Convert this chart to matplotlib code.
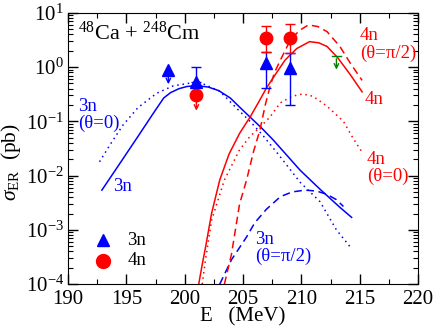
import numpy as np
import matplotlib
matplotlib.use('Agg')
import matplotlib.pyplot as plt
from matplotlib.ticker import LogLocator, NullFormatter, MultipleLocator

plt.rcParams['font.family'] = ['Liberation Serif', 'DejaVu Serif']
plt.rcParams['mathtext.fontset'] = 'custom'
plt.rcParams['mathtext.rm'] = 'Liberation Serif'
plt.rcParams['mathtext.it'] = 'Liberation Serif:italic'

# calculated curves, E (MeV) vs sigma_ER (pb)
blue_solid_E = [192.9, 194.5, 196.0, 197.3, 198.2, 198.8, 199.5, 200.2, 201.0, 202.0, 202.9, 203.9, 204.8, 205.6,
                206.6, 207.6, 209.9, 211.6, 213.3, 214.3]
blue_solid_s = [0.0054, 0.0175, 0.053, 0.14, 0.27, 0.34, 0.40, 0.44, 0.455, 0.43, 0.37, 0.27, 0.175, 0.12,
                0.075, 0.045, 0.0125, 0.0056, 0.0026, 0.0017]

blue_dot_E = [192.7, 193.7, 194.7, 196.0, 197.6, 199.0, 200.5, 201.5, 203.0, 204.5, 205.6, 206.7, 208.0, 209.9, 211.6, 213.0, 214.2]
blue_dot_s = [0.018, 0.04, 0.085, 0.18, 0.33, 0.45, 0.51, 0.50, 0.36, 0.17, 0.10, 0.055, 0.025, 0.0075, 0.0033, 0.001, 0.00048]

blue_dash_E = [203.0, 204.0, 205.3, 206.0, 207.0, 208.2, 209.2, 210.3, 211.3, 212.2, 213.0, 213.6]
blue_dash_s = [1e-4, 2.8e-4, 7.4e-4, 0.00135, 0.0024, 0.0041, 0.005, 0.0054, 0.0052, 0.0045, 0.0036, 0.0027]

red_solid_E = [201.2, 201.5, 201.8, 202.3, 203.0, 203.8, 204.7, 205.6, 206.3, 207.0, 207.8, 208.6, 209.6, 210.7, 211.5, 212.2, 213.1, 214.2, 215.2]
red_solid_s = [1e-4, 2.3e-4, 5e-4, 0.002, 0.0083, 0.025, 0.06, 0.12, 0.22, 0.41, 0.75, 1.35, 2.2, 2.95, 2.8, 2.4, 1.5, 0.72, 0.35]

red_dash_E = [203.4, 204.0, 204.7, 205.3, 205.9, 206.45, 206.9, 207.3, 207.7, 208.2, 209.0, 209.8, 210.6, 211.4, 212.2, 213.3, 214.2, 215.2]
red_dash_s = [1e-4, 3.5e-4, 0.003, 0.0083, 0.028, 0.07, 0.2, 0.43, 0.8, 1.35, 3.0, 4.7, 6.0, 5.6, 4.5, 2.4, 1.17, 0.57]

red_dot_E = [201.5, 201.8, 202.3, 203.4, 204.7, 205.6, 206.5, 207.3, 208.2, 209.2, 210.1, 211.0, 212.2, 213.6, 214.4, 215.2]
red_dot_s = [1e-4, 3e-4, 0.0015, 0.0083, 0.03, 0.053, 0.08, 0.12, 0.22, 0.29, 0.32, 0.29, 0.19, 0.1, 0.05, 0.027]

# measured points
tri_E = [201.0, 207.0, 209.0]
tri_s = [0.53, 1.2, 0.97]
tri_lo = [0.53, 0.42, 0.2]
tri_hi = [1.0, 1.9, 1.8]
tri_lim_E, tri_lim_s, tri_lim_to = 198.6, 0.9, 0.43

circ_E = [207.0, 209.0]
circ_s = [3.5, 3.5]
circ_lo = [1.9, 1.8]
circ_hi = [5.8, 6.2]
circ_lim_E, circ_lim_s, circ_lim_to = 201.0, 0.31, 0.14

green_E, green_s, green_to = 213.0, 1.6, 0.8

fig = plt.figure(figsize=(4.36, 3.30), dpi=100)
ax = fig.add_axes([0.156, 0.139, 0.803, 0.822])

lw = 1.1
ax.plot(blue_solid_E, blue_solid_s, color='blue', lw=lw)
ax.plot(blue_dot_E, blue_dot_s, color='blue', lw=lw, ls=(0, (1, 2.5)))
ax.plot(blue_dash_E, blue_dash_s, color='blue', lw=lw, ls=(0, (5, 3)))
ax.plot(red_solid_E, red_solid_s, color='red', lw=lw)
ax.plot(red_dot_E, red_dot_s, color='red', lw=lw, ls=(0, (1, 2.5)))
ax.plot(red_dash_E, red_dash_s, color='red', lw=lw, ls=(0, (5, 3)))

# error bars
yerr_t = [np.array(tri_s) - np.array(tri_lo), np.array(tri_hi) - np.array(tri_s)]
ax.errorbar(tri_E, tri_s, yerr=yerr_t, fmt='^', color='blue', ms=8, capsize=3.5, elinewidth=1, capthick=1, zorder=4)
yerr_c = [np.array(circ_s) - np.array(circ_lo), np.array(circ_hi) - np.array(circ_s)]
ax.errorbar(circ_E, circ_s, yerr=yerr_c, fmt='o', color='red', ms=9, capsize=3.5, elinewidth=1, capthick=1, zorder=4)

# upper limits
ax.plot([tri_lim_E], [tri_lim_s], '^', color='blue', ms=8, zorder=4)
ax.annotate('', xy=(tri_lim_E, tri_lim_to), xytext=(tri_lim_E, tri_lim_s),
            arrowprops=dict(arrowstyle='->', color='blue', lw=1, mutation_scale=8))
ax.plot([circ_lim_E], [circ_lim_s], 'o', color='red', ms=9, zorder=4)
ax.annotate('', xy=(circ_lim_E, circ_lim_to), xytext=(circ_lim_E, circ_lim_s),
            arrowprops=dict(arrowstyle='->', color='red', lw=1, mutation_scale=8))
ax.plot([green_E - 0.35, green_E + 0.35], [green_s, green_s], color='green', lw=1)
ax.annotate('', xy=(green_E, green_to), xytext=(green_E, green_s),
            arrowprops=dict(arrowstyle='->', color='green', lw=1, mutation_scale=8))

# legend
ax.plot([193.0], [0.00065], '^', color='blue', ms=9)
ax.plot([193.0], [0.00027], 'o', color='red', ms=10)
ax.text(195.1, 0.00065, '3n', fontsize=13.5, va='center')
ax.text(195.1, 0.00027, '4n', fontsize=13.5, va='center')

# labels on curves
fs = 13.5
ax.text(190.9, 0.13, '3n\n(θ=0)', color='blue', fontsize=fs, va='center', linespacing=1.0)
ax.text(193.9, 0.0062, '3n', color='blue', fontsize=fs, va='center')
ax.text(206.0, 0.00046, '3n\n(θ=π/2)', color='blue', fontsize=fs, va='center', linespacing=1.0)
ax.text(215.0, 2.6, '4n\n(θ=π/2)', color='red', fontsize=fs, va='center', linespacing=1.0)
ax.text(215.45, 0.25, '4n', color='red', fontsize=fs, va='center')
ax.text(215.6, 0.014, '4n\n(θ=0)', color='red', fontsize=fs, va='center', linespacing=1.0)
ax.text(0.028, 0.925, r'$^{48}$Ca + $^{248}$Cm', transform=ax.transAxes, fontsize=16, va='center')

ax.set_yscale('log')
ax.set_xlim(190, 220)
ax.set_ylim(1e-4, 10)
ax.xaxis.set_major_locator(MultipleLocator(5))
ax.xaxis.set_minor_locator(MultipleLocator(2.5))
ax.yaxis.set_major_locator(LogLocator(base=10, numticks=10))
ax.yaxis.set_minor_locator(LogLocator(base=10, subs=np.arange(2, 10), numticks=20))
ax.yaxis.set_minor_formatter(NullFormatter())
ax.tick_params(which='both', direction='in', top=True, right=True, labelsize=15)
ax.tick_params(which='major', length=7, width=1)
ax.tick_params(which='minor', length=3.5, width=0.8)
ax.tick_params(axis='x', pad=4)
ax.tick_params(axis='y', pad=3)

ax.set_xlabel('E   (MeV)', fontsize=15, labelpad=-1)
ax.set_ylabel(r'$\sigma_{\rm ER}$  (pb)', fontsize=15.5)
ax.yaxis.set_label_coords(-0.128, 0.45)

fig.savefig('out.png', dpi=100)
